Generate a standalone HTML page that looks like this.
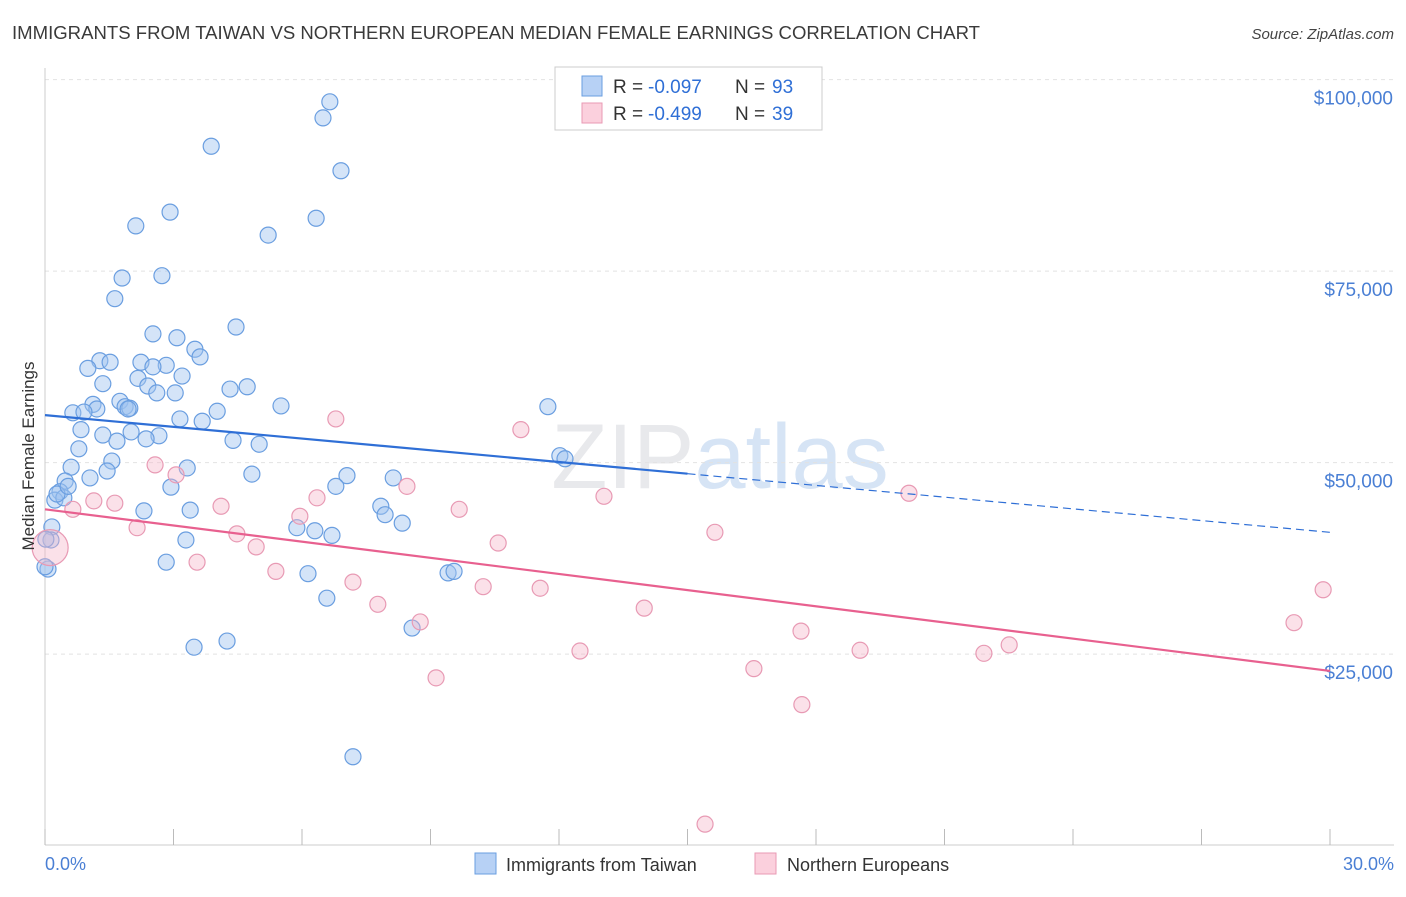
<!DOCTYPE html>
<html><head><meta charset="utf-8"><style>
body{margin:0;background:#fff;font-family:"Liberation Sans",sans-serif;}
svg text{font-family:"Liberation Sans",sans-serif;}
</style></head><body>
<svg id="chart" width="1406" height="892" xmlns="http://www.w3.org/2000/svg">
<text x="12" y="39" font-size="18" fill="#3a3a3a" textLength="968" lengthAdjust="spacingAndGlyphs">IMMIGRANTS FROM TAIWAN VS NORTHERN EUROPEAN MEDIAN FEMALE EARNINGS CORRELATION CHART</text>
<text x="1394" y="39" font-size="15" fill="#444" text-anchor="end" font-style="italic">Source: ZipAtlas.com</text>
<text x="720" y="488" font-size="92" fill="#e8e9ec" text-anchor="middle" font-family="Liberation Serif">ZIP<tspan fill="#d6e4f5" font-family="Liberation Sans">atlas</tspan></text>
<g id="grid"></g><g id="axes"></g><g id="pts"></g><g id="lines"></g>
<text transform="translate(34,456) rotate(-90)" font-size="17" fill="#333" text-anchor="middle">Median Female Earnings</text>
<g>
<rect x="555" y="67" width="267" height="63" fill="#fff" stroke="#ccc"/>
<rect x="582" y="76" width="20" height="20" fill="#b7d1f5" stroke="#6a9ee0"/>
<text x="613" y="93" font-size="19" fill="#333">R = </text>
<text x="648" y="93" font-size="19" fill="#2f6fd6">-0.097</text>
<text x="735" y="93" font-size="19" fill="#333">N = </text>
<text x="772" y="93" font-size="19" fill="#2f6fd6">93</text>
<rect x="582" y="103" width="20" height="20" fill="#fbd0dd" stroke="#e89ab4"/>
<text x="613" y="120" font-size="19" fill="#333">R = </text>
<text x="648" y="120" font-size="19" fill="#2f6fd6">-0.499</text>
<text x="735" y="120" font-size="19" fill="#333">N = </text>
<text x="772" y="120" font-size="19" fill="#2f6fd6">39</text>
</g>
<g>
<rect x="475" y="853" width="21" height="21" fill="#b7d1f5" stroke="#6a9ee0"/>
<text x="506" y="871" font-size="18" fill="#333">Immigrants from Taiwan</text>
<rect x="755" y="853" width="21" height="21" fill="#fbd0dd" stroke="#e89ab4"/>
<text x="787" y="871" font-size="18" fill="#333">Northern Europeans</text>
</g>
</svg>
<script>
const blueX=[6.65,6.49,3.88,6.91,2.92,6.33,2.12,5.21,1.80,2.73,1.63,4.46,2.52,3.08,3.50,3.62,1.28,1.52,2.24,1.00,2.83,2.52,3.20,2.17,1.35,2.40,2.61,4.32,4.72,3.04,1.12,1.75,1.87,5.51,1.21,0.65,0.91,1.98,4.02,3.15,3.67,11.74,0.84,1.35,2.01,2.66,2.36,1.68,4.39,5.00,0.79,12.02,12.14,1.56,0.61,3.32,4.83,1.45,7.05,8.13,1.05,0.47,2.94,6.79,0.35,0.23,7.84,2.31,3.39,7.94,8.34,0.16,5.88,6.30,6.70,3.29,0.14,2.83,6.14,9.41,9.55,0.07,6.58,8.57,4.25,3.48,7.19,0.44,0.28,0.02,0.0,1.94,0.54];
const blueY=[97.1,95.0,91.3,88.1,82.7,81.9,80.9,79.7,74.1,74.4,71.4,67.7,66.8,66.3,64.8,63.8,63.3,63.1,63.1,62.3,62.7,62.5,61.3,61.0,60.3,60.0,59.1,59.6,59.9,59.1,57.6,58.0,57.3,57.4,57.0,56.5,56.6,57.1,56.7,55.7,55.4,57.3,54.3,53.6,54.0,53.5,53.1,52.8,52.9,52.4,51.8,50.9,50.5,50.2,49.4,49.3,48.5,48.9,48.3,48.0,48.0,47.6,46.8,46.9,46.2,45.1,44.3,43.7,43.8,43.2,42.1,41.6,41.5,41.1,40.5,39.9,39.9,37.0,35.5,35.6,35.8,36.1,32.3,28.4,26.7,25.9,11.6,45.4,45.9,40.0,36.4,57.0,46.9];
const pinkX=[6.79,11.11,2.57,3.06,8.45,13.05,20.17,6.35,1.14,1.63,9.67,4.11,0.65,5.95,2.15,4.48,15.64,10.58,4.93,3.55,5.39,7.19,10.23,11.56,7.77,13.99,29.84,29.16,8.76,17.65,19.03,22.51,21.92,12.49,16.55,9.13,17.67,15.41,0.12];
const pinkY=[55.7,54.3,49.7,48.4,46.9,45.6,46.0,45.4,45.0,44.7,43.9,44.3,43.9,43.0,41.5,40.7,40.9,39.5,39.0,37.0,35.8,34.4,33.8,33.6,31.5,31.0,33.4,29.1,29.2,28.0,25.5,26.2,25.1,25.4,23.1,21.9,18.4,2.8,38.9];
const blueTrend=[56.2,40.9];
const pinkTrend=[43.9,22.8];
const yTicks=[25,50,75,100];
const yTickLabels=["$25,000","$50,000","$75,000","$100,000"];
const xTicks=[0,3,6,9,12,15,18,21,24,27,30];

const NS="http://www.w3.org/2000/svg";
const X=v=>45+v*(1330-45)/30;
const Y=v=>845.6-v*191.5/25;
function mk(p,t,a){const e=document.createElementNS(NS,t);for(const k in a)e.setAttribute(k,a[k]);document.getElementById(p).appendChild(e);return e;}
yTicks.forEach((t,i)=>{
 const l=mk('grid','line',{x1:45,x2:1394,y1:Y(t),y2:Y(t),stroke:'#e2e2e2','stroke-dasharray':'4,4'});
 
 
 const tx=mk('grid','text',{x:1393,y:Y(t)+25,'font-size':19,fill:'#4a7fd4','text-anchor':'end'});
 tx.textContent=yTickLabels[i];
 
 
});
mk('axes','line',{x1:45,x2:45,y1:68,y2:845,stroke:'#ccc'});
mk('axes','line',{x1:45,x2:1394,y1:845,y2:845,stroke:'#ccc'});
xTicks.forEach(t=>{const l=mk('axes','line',{x1:X(t),x2:X(t),y1:829,y2:845,stroke:'#bbb'});
 
 });
const xl0=mk('axes','text',{x:45,y:870,'font-size':18,fill:'#4a7fd4'});xl0.textContent='0.0%';


const xl1=mk('axes','text',{x:1394,y:870,'font-size':18,fill:'#4a7fd4','text-anchor':'end'});xl1.textContent='30.0%';


blueX.forEach((x,i)=>{const c=mk('pts','circle',{cx:X(x),cy:Y(blueY[i]),r:8,fill:'rgba(160,196,240,0.45)',stroke:'#6a9ee0','stroke-width':1.2});
 
 });
pinkX.forEach((x,i)=>{const c=mk('pts','circle',{cx:X(x),cy:Y(pinkY[i]),r:i==pinkX.length-1?18:8,fill:'rgba(245,180,200,0.4)',stroke:'#e89ab4','stroke-width':1.2});
 
 });
const bm=blueTrend[0]+(blueTrend[1]-blueTrend[0])*0.5;
const b1=mk('lines','line',{x1:X(0),y1:Y(blueTrend[0]),x2:X(15),y2:Y(bm),stroke:'#2f6fd6','stroke-width':2.2});


const b2=mk('lines','line',{x1:X(15),y1:Y(bm),x2:X(30),y2:Y(blueTrend[1]),stroke:'#2f6fd6','stroke-width':1.2,'stroke-dasharray':'8,5'});


const p1=mk('lines','line',{x1:X(0),y1:Y(pinkTrend[0]),x2:X(30),y2:Y(pinkTrend[1]),stroke:'#e8608f','stroke-width':2.2});


</script>
</body></html>
